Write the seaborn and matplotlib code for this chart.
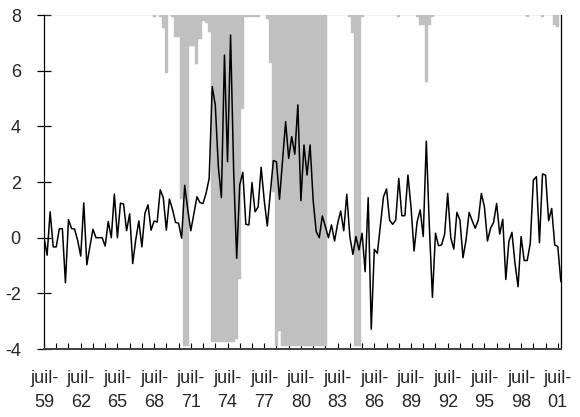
import numpy as np
import matplotlib
matplotlib.use("Agg")
import matplotlib.pyplot as plt
import seaborn as sns

# quarterly series, juil-59 .. 2001 (170 quarters)
serie = [
    0.0, -0.63, 0.93, -0.33, -0.33, 0.32, 0.32, -1.62, 0.65, 0.33,
    0.31, -0.1, -0.66, 1.25, -0.97, -0.32, 0.3, 0.0, 0.0, 0.0,
    -0.3, 0.58, 0.0, 1.57, 0.0, 1.24, 1.21, 0.25, 0.86, -0.93,
    -0.07, 0.6, -0.33, 0.88, 1.18, 0.27, 0.6, 0.56, 1.72, 1.44,
    0.27, 1.39, 1.02, 0.55, 0.52, -0.02, 1.88, 1.0, 0.25, 0.87,
    1.47, 1.26, 1.23, 1.6, 2.13, 5.43, 4.77, 2.55, 1.44, 6.56,
    2.73, 7.28, 2.43, -0.74, 1.9, 2.35, 0.48, 0.46, 1.98, 0.93,
    1.1, 2.53, 1.35, 0.42, 1.62, 2.77, 2.73, 1.38, 2.79, 4.17,
    2.85, 3.63, 3.0, 4.77, 1.33, 3.33, 2.25, 3.33, 1.35, 0.22,
    0.0, 0.78, 0.4, 0.0, 0.46, -0.12, 0.5, 0.96, 0.25, 1.56,
    0.04, -0.6, 0.04, -0.44, 0.16, -1.22, 1.44, -3.29, -0.42, -0.56,
    0.46, 1.47, 1.75, 0.63, 0.48, 0.63, 2.13, 0.79, 0.79, 2.25,
    1.1, -0.48, 0.57, 1.0, 0.04, 3.47, 0.4, -2.14, 0.16, -0.29,
    -0.26, 0.13, 1.59, 0.0, -0.41, 0.91, 0.63, -0.72, -0.08, 0.91,
    0.61, 0.34, 0.63, 1.59, 1.11, -0.12, 0.34, 0.55, 1.23, 0.13,
    0.66, -1.5, -0.14, 0.19, -0.92, -1.76, 0.04, -0.82, -0.82, -0.2,
    2.07, 2.19, -0.18, 2.29, 2.25, 0.61, 1.05, -0.26, -0.32, -1.58,
]

# regime probability (bars hang from the top of the axis)
proba = (
    [0.0] * 36
    + [0.005, 0.0, 0.005, 0.04, 0.175, 0.0, 0.005, 0.065, 0.065, 0.55,
       0.99, 0.99, 0.093, 0.093, 0.147, 0.073, 0.017, 0.025, 0.052]
    + [0.98] * 8
    + [0.97, 0.79, 0.28, 0.005, 0.005, 0.005, 0.005, 0.005, 0.0, 0.0,
       0.012, 0.145, 0.53, 0.99, 0.945]
    + [0.99] * 15
    + [0.0] * 7
    + [0.005, 0.055, 0.99, 0.99, 0.005]
    + [0.0] * 11
    + [0.005, 0.0, 0.0, 0.0, 0.0, 0.0, 0.005, 0.03, 0.03, 0.2, 0.03, 0.005]
    + [0.0] * 30
    + [0.005, 0.0, 0.0, 0.0, 0.0, 0.005, 0.0, 0.0, 0.0, 0.03, 0.035, 0.0]
)

annees = ["59", "62", "65", "68", "71", "74", "77", "80",
          "83", "86", "89", "92", "95", "98", "01"]

sns.set_theme(style="white")
plt.rcParams["font.family"] = ["Liberation Sans", "DejaVu Sans"]

idx = np.arange(len(serie))
p = np.array(proba)

fig, ax = plt.subplots(figsize=(5.8, 4.17), dpi=100)
fig.subplots_adjust(left=0.0759, right=0.967, top=0.964, bottom=0.163)

ymin, ymax = -4, 8
ax.bar(idx, -(ymax - ymin) * p, bottom=ymax, width=1.0,
       color="#c0c0c0", edgecolor="#c0c0c0", linewidth=0.3, zorder=1)
sns.lineplot(x=idx, y=serie, color="black", linewidth=1.1, ax=ax, zorder=3)

ax.set_xlim(0, len(serie) - 1)
ax.set_ylim(ymin, ymax)

ax.set_yticks(range(-4, 9, 2))
ax.set_yticklabels([str(v) for v in range(-4, 9, 2)])
ax.tick_params(axis="y", direction="inout", length=9.5, width=0.9,
               color="black", pad=12, labelsize=13, left=True)

ax.set_xticks(range(0, len(serie), 12))
ax.set_xticklabels(["juil-\n" + a for a in annees], linespacing=1.55)
ax.set_xticks(range(0, len(serie), 4), minor=True)
ax.tick_params(axis="x", which="both", direction="in", length=4, width=0.8,
               color="black", bottom=True)
ax.tick_params(axis="x", which="major", pad=15, labelsize=13)

for s in ["left", "bottom", "right"]:
    ax.spines[s].set_color("black")
    ax.spines[s].set_linewidth(0.9)
ax.spines["bottom"].set_color("#404040")
ax.spines["bottom"].set_linewidth(1.4)
ax.spines["top"].set_visible(False)
ax.set_xlabel("")
ax.set_ylabel("")

fig.savefig("out.png", dpi=100)
